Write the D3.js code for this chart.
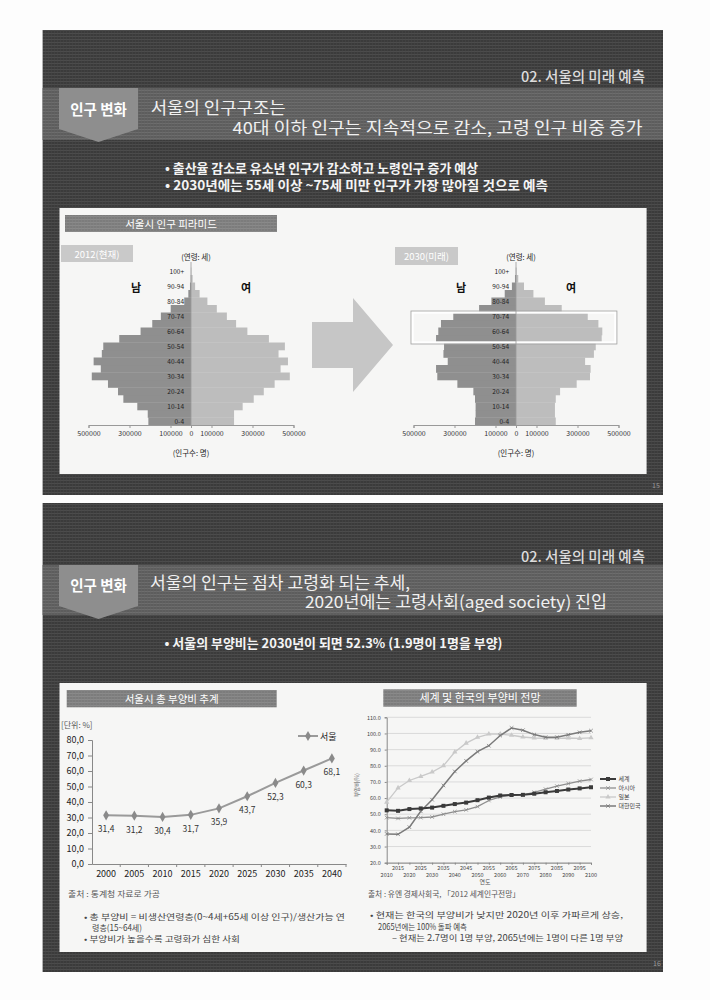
<!DOCTYPE html>
<html><head><meta charset="utf-8">
<script src="https://cdn.jsdelivr.net/npm/d3@7"></script>
<style>body{margin:0;background:#fff;}svg{display:block;}text{font-family:"Noto Sans CJK KR","Noto Sans",sans-serif;}</style>
</head><body><svg id="c" width="710" height="1000"></svg>
<script>
// ---------- DATA ----------
const ageGroups = ["0-4","5-9","10-14","15-19","20-24","25-29","30-34","35-39","40-44","45-49","50-54","55-59","60-64","65-69","70-74","75-79","80-84","85-89","90-94","95-99","100+"];
const ageTickLabels = ["0-4","10-14","20-24","30-34","40-44","50-54","60-64","70-74","80-84","90-94","100+"];
const male2012 = [208000,211000,262000,330000,356000,405000,484000,440000,475000,435000,428000,350000,246000,189000,147000,99000,33000,13000,5000,1500,500];
const female2012 = [210000,210000,252000,306000,355000,408000,482000,437000,473000,427000,458000,380000,275000,220000,175000,126000,80000,42000,20000,8000,2000];
const male2030 = [200000,197000,197000,200000,208000,286000,384000,390000,333000,354000,351000,390000,379000,366000,306000,180000,120000,55000,20000,5000,1000];
const female2030 = [194000,190000,190000,194000,215000,296000,361000,364000,337000,380000,389000,418000,421000,402000,350000,223000,141000,85000,39000,11000,3000];
const popTicks = [-500000,-300000,-100000,0,100000,300000,500000];
const highlightAges = ["55-59","70-74"];

const seoulYears = ["2000","2005","2010","2015","2020","2025","2030","2035","2040"];
const seoulRatio = [31.4,31.2,30.4,31.7,35.9,43.7,52.3,60.3,68.1];
const seoulYTicks = [0,10,20,30,40,50,60,70,80];

const worldYears = [2010,2015,2020,2025,2030,2035,2040,2045,2050,2055,2060,2065,2070,2075,2080,2085,2090,2095,2100];
const worldRatio = [52.4,52.1,53.2,53.6,54.1,55.2,56.3,57.2,58.7,60.3,61.6,61.9,62.0,62.7,63.6,64.4,65.3,66.0,66.7];
const asiaRatio  = [47.9,47.4,47.8,47.9,48.3,50.0,51.6,52.7,54.7,58.5,60.7,61.8,62.0,63.6,65.5,67.4,69.0,70.5,71.5];
const japanRatio = [57.5,66.3,70.9,73.4,76.1,80.0,88.5,94.0,97.6,99.6,99.6,98.9,97.8,97.2,97.0,97.0,97.2,96.9,97.3];
const koreaRatio = [37.8,37.6,42.0,51.8,59.0,67.8,76.5,83.0,88.7,92.4,98.7,103.4,102.0,99.3,97.7,97.7,99.2,100.7,101.7];
const worldYTicks = [20,30,40,50,60,70,80,90,100,110];
const seriesNames = ["세계","아시아","일본","대한민국"];

// ---------- PAGE ----------
const svg = d3.select("#c");
const defs = svg.append("defs");
function tex(id, base, line, vline){
  const p = defs.append("pattern").attr("id",id).attr("width",3).attr("height",3).attr("patternUnits","userSpaceOnUse");
  p.append("rect").attr("width",3).attr("height",3).attr("fill",base);
  p.append("rect").attr("width",3).attr("height",1).attr("fill",line);
  p.append("rect").attr("width",1).attr("height",3).attr("fill",vline).attr("opacity",0.5);
}
tex("dark","#3b3b3b","#4c4c4c","#474747");
tex("band","#5d5d5d","#6d6d6d","#666");
tex("gbox","#7c7c7c","#8a8a8a","#858585");

svg.append("rect").attr("width",710).attr("height",1000).attr("fill","#fdfdfd");

function panel(y0,y1,bandY0,bandY1,inY0,inY1,chev){
  svg.append("rect").attr("x",42.6).attr("y",y0).attr("width",620.4).attr("height",y1-y0).attr("fill","url(#dark)");
  svg.append("rect").attr("x",42.6).attr("y",bandY0).attr("width",620.4).attr("height",bandY1-bandY0).attr("fill","url(#band)");
  svg.append("path").attr("d",`M59,${bandY0}H138V${bandY0+41}L98.5,${bandY0+54}L59,${bandY0+41}Z`).attr("fill","#8e8e8e");
  svg.append("rect").attr("x",59.5).attr("y",inY0).attr("width",587.1).attr("height",inY1-inY0).attr("fill","#f6f6f5");
}
panel(30,495,88,140,208,474);
panel(503,972,565,615,683,952);

function txt(x,y,s,o={}){
  const t = svg.append("text").attr("x",x).attr("y",y).text(s)
    .attr("font-size",o.size||10).attr("fill",o.fill||"#222")
    .attr("font-weight",o.weight||400).attr("text-anchor",o.anchor||"start");
  if(o.len) t.attr("textLength",o.len).attr("lengthAdjust","spacingAndGlyphs");
  if(o.family) t.attr("font-family",o.family);
  return t;
}
// headers
txt(645,82,"02. 서울의 미래 예측",{size:14.5,fill:"#dcdcdc",anchor:"end",weight:500});
txt(98.5,115,"인구 변화",{size:14.5,fill:"#fff",anchor:"middle",weight:700});
txt(150.7,114,"서울의 인구구조는",{size:16.5,fill:"#f0f0f0",len:135});
txt(232.6,134,"40대 이하 인구는 지속적으로 감소, 고령 인구 비중 증가",{size:16.5,fill:"#f0f0f0",len:410});
txt(165,173,"• 출산율 감소로 유소년 인구가 감소하고 노령인구 증가 예상",{size:13,fill:"#f4f4f4",weight:700,len:313});
txt(165,190,"• 2030년에는 55세 이상 ~75세 미만 인구가 가장 많아질 것으로 예측",{size:13,fill:"#f4f4f4",weight:700,len:383});
txt(656,488,"15",{size:7,fill:"#999",anchor:"middle"});

txt(645,562,"02. 서울의 미래 예측",{size:14.5,fill:"#dcdcdc",anchor:"end",weight:500});
txt(98.5,591,"인구 변화",{size:14.5,fill:"#fff",anchor:"middle",weight:700});
txt(150,589,"서울의 인구는 점차 고령화 되는 추세,",{size:16.5,fill:"#f0f0f0",len:260});
txt(305,608,"2020년에는 고령사회(aged society) 진입",{size:16.5,fill:"#f0f0f0",len:302});
txt(164.5,648,"• 서울의 부양비는 2030년이 되면 52.3% (1.9명이 1명을 부양)",{size:13,fill:"#f4f4f4",weight:700,len:338});
txt(657,966,"16",{size:7,fill:"#999",anchor:"middle"});

// ---------- PYRAMIDS ----------
svg.append("rect").attr("x",65).attr("y",215).attr("width",212).attr("height",17).attr("fill","url(#gbox)");
txt(171,227.5,"서울시 인구 피라미드",{size:10.5,fill:"#fff",anchor:"middle"});
svg.append("rect").attr("x",61).attr("y",245).attr("width",72).attr("height",17).attr("fill","#c9c9c9");
txt(97,257.5,"2012(현재)",{size:9.5,fill:"#fff",anchor:"middle"});
svg.append("rect").attr("x",395).attr("y",247).attr("width",63).attr("height",18).attr("fill","#c9c9c9");
txt(426.5,259.5,"2030(미래)",{size:9.5,fill:"#fff",anchor:"middle"});

// arrow
svg.append("path").attr("d","M312,322H353V298L393,345L353,392V368H312Z").attr("fill","#c6c6c6");

function pyramid(cx, male, female, highlight){
  const x = d3.scaleLinear().domain([-500000,500000]).range([cx-102.5,cx+102.5]);
  const y = d3.scaleBand().domain(ageGroups).range([425,267.5]).padding(0);
  const g = svg.append("g");
  g.selectAll(".m").data(ageGroups).join("rect")
    .attr("x",(d,i)=>x(-male[i])).attr("y",d=>y(d))
    .attr("width",(d,i)=>x(0)-x(-male[i])).attr("height",y.bandwidth()+0.3).attr("fill","#8f8f8f");
  g.selectAll(".f").data(ageGroups).join("rect")
    .attr("x",x(0)).attr("y",d=>y(d))
    .attr("width",(d,i)=>x(female[i])-x(0)).attr("height",y.bandwidth()+0.3).attr("fill","#bdbdbd");
  if(highlight){
    const top = y(highlight[1]), bot = y(highlight[0])+y.bandwidth();
    g.append("rect").attr("x",x(-505000)).attr("y",top).attr("width",x(485000)-x(-505000)).attr("height",bot-top)
      .attr("fill","none").attr("stroke","#fff").attr("stroke-width",2.4);
    g.append("rect").attr("x",x(-505000)-1.5).attr("y",top-1.5).attr("width",x(485000)-x(-505000)+3).attr("height",bot-top+3)
      .attr("fill","none").attr("stroke","#a0a0a0").attr("stroke-width",0.8);
  }
  g.append("line").attr("x1",x(0)).attr("x2",x(0)).attr("y1",262).attr("y2",425).attr("stroke","#999").attr("stroke-width",0.8);
  g.selectAll(".al").data(ageTickLabels).join("text")
    .attr("x",x(0)-7).attr("y",d=>y(d)+y.bandwidth()/2+2.3).attr("text-anchor","end")
    .attr("font-size",6.5).attr("fill","#222").text(d=>d);
  const ax = g.append("g").attr("transform","translate(0,425)")
    .call(d3.axisBottom(x).tickValues(popTicks).tickFormat(d=>Math.abs(d)).tickSize(3).tickPadding(3));
  ax.select(".domain").attr("stroke","#999");
  ax.selectAll(".tick line").attr("stroke","#999");
  ax.selectAll("text").attr("font-size",7).attr("fill","#333").attr("font-family","'Liberation Sans',Arial,sans-serif");
  txt(cx+5,259.5,"(연령: 세)",{size:7.5,anchor:"middle"});
  txt(cx,456,"(인구수: 명)",{size:7.5,anchor:"middle"});
  txt(cx-55,291.5,"남",{size:11,weight:700,anchor:"middle",fill:"#111"});
  txt(cx+55,291.5,"여",{size:11,weight:700,anchor:"middle",fill:"#111"});
}
pyramid(191, male2012, female2012, null);
pyramid(516, male2030, female2030, highlightAges);

// ---------- SEOUL DEPENDENCY ----------
svg.append("rect").attr("x",66.7).attr("y",690).attr("width",210).attr("height",17.3).attr("fill","url(#gbox)");
txt(171.7,702.5,"서울시 총 부양비 추계",{size:10.5,fill:"#fff",anchor:"middle"});
txt(61,728,"[단위: %]",{size:8,fill:"#555"});
{
  const xs = d3.scaleBand().domain(seoulYears).range([92,346]);
  const ys = d3.scaleLinear().domain([0,80]).range([864,740]);
  const g = svg.append("g");
  const fmt = d=>d3.format(".1f")(d).replace(".",",");
  const ay = g.append("g").attr("transform","translate(92,0)")
    .call(d3.axisLeft(ys).tickValues(seoulYTicks).tickFormat(fmt).tickSize(4).tickPadding(4));
  const axx = g.append("g").attr("transform","translate(0,864)")
    .call(d3.axisBottom(xs).tickSize(0).tickPadding(7));
  [ay,axx].forEach(a=>{a.select(".domain").attr("stroke","#888");a.selectAll(".tick line").attr("stroke","#888");
    a.selectAll("text").attr("font-size",9).attr("fill","#222").attr("font-family","'Liberation Sans',Arial,sans-serif");});
  g.selectAll(".xt").data(seoulYears).join("line")
    .attr("x1",d=>xs(d)+xs.bandwidth()).attr("x2",d=>xs(d)+xs.bandwidth()).attr("y1",864).attr("y2",867).attr("stroke","#888");
  const cxp = d=>xs(d)+xs.bandwidth()/2;
  g.append("path").datum(seoulRatio)
    .attr("d",d3.line().x((d,i)=>cxp(seoulYears[i])).y(d=>ys(d)))
    .attr("fill","none").attr("stroke","#9a9a9a").attr("stroke-width",2);
  g.selectAll(".pt").data(seoulRatio).join("path")
    .attr("transform",(d,i)=>`translate(${cxp(seoulYears[i])},${ys(d)})`)
    .attr("d",d3.symbol(d3.symbolDiamond,30)).attr("fill","#8a8a8a");
  g.selectAll(".lb").data(seoulRatio).join("text")
    .attr("x",(d,i)=>cxp(seoulYears[i])).attr("y",d=>ys(d)+17).attr("text-anchor","middle")
    .attr("font-size",8.5).attr("fill","#333").attr("font-family","'Liberation Sans',Arial,sans-serif").text(fmt);
  // legend
  g.append("line").attr("x1",298).attr("x2",318).attr("y1",736).attr("y2",736).attr("stroke","#9a9a9a").attr("stroke-width",2);
  g.append("path").attr("transform","translate(308,736)").attr("d",d3.symbol(d3.symbolDiamond,30)).attr("fill","#8a8a8a");
  txt(320,739.5,"서울",{size:9,fill:"#222"});
}

// ---------- WORLD DEPENDENCY ----------
svg.append("rect").attr("x",383.3).attr("y",689.3).attr("width",193.4).attr("height",17.4).attr("fill","url(#gbox)");
txt(480,702,"세계 및 한국의 부양비 전망",{size:11,fill:"#fff",anchor:"middle"});
{
  const xw = d3.scalePoint().domain(worldYears).range([386.7,591]);
  const yw = d3.scaleLinear().domain([20,110]).range([862.7,717.3]);
  const g = svg.append("g");
  g.selectAll(".gl").data(worldYTicks).join("line")
    .attr("x1",386.7).attr("x2",591).attr("y1",d=>yw(d)).attr("y2",d=>yw(d)).attr("stroke","#cfcfcf").attr("stroke-width",0.7);
  const ay = g.append("g").attr("transform","translate(386.7,0)")
    .call(d3.axisLeft(yw).tickValues(worldYTicks).tickFormat(d3.format(".1f")).tickSize(2).tickPadding(4));
  const axx = g.append("g").attr("transform","translate(0,862.7)")
    .call(d3.axisBottom(xw).tickSize(2).tickFormat(""));
  [ay,axx].forEach(a=>{a.select(".domain").attr("stroke","#888");a.selectAll(".tick line").attr("stroke","#888");
    a.selectAll("text").attr("font-size",5.5).attr("fill","#444").attr("font-family","'Liberation Sans',Arial,sans-serif");});
  g.selectAll(".xl").data(worldYears).join("text")
    .attr("x",d=>xw(d)).attr("y",(d,i)=>i%2? 869.5:876.5).attr("text-anchor","middle")
    .attr("font-size",5.5).attr("fill","#444").attr("font-family","'Liberation Sans',Arial,sans-serif").text(d=>d);
  const st = [
    {v:japanRatio, c:"#c9c9c9", w:1.3, sym:d3.symbolTriangle, sz:12},
    {v:asiaRatio, c:"#8e8e8e", w:1.3, sym:d3.symbolTimes, sz:10},
    {v:koreaRatio, c:"#7a7a7a", w:1.5, sym:d3.symbolTimes, sz:10},
    {v:worldRatio, c:"#3a3a3a", w:2, sym:d3.symbolSquare, sz:16}
  ];
  const line = d3.line().x((d,i)=>xw(worldYears[i])).y(d=>yw(d));
  st.forEach(s=>{
    g.append("path").datum(s.v).attr("d",line).attr("fill","none").attr("stroke",s.c).attr("stroke-width",s.w);
    g.selectAll(null).data(s.v).join("path")
      .attr("transform",(d,i)=>`translate(${xw(worldYears[i])},${yw(d)})`)
      .attr("d",d3.symbol(s.sym,s.sz)).attr("fill",s.c).attr("stroke",s.sym===d3.symbolTimes?s.c:"none").attr("stroke-width",0.8);
  });
  const legendStyles = [st[3],st[1],st[0],st[2]];
  seriesNames.forEach((n,i)=>{
    const yy = 779+i*9;
    const s = legendStyles[i];
    g.append("line").attr("x1",600).attr("x2",616).attr("y1",yy).attr("y2",yy).attr("stroke",s.c).attr("stroke-width",s.w);
    g.append("path").attr("transform",`translate(608,${yy})`).attr("d",d3.symbol(s.sym,s.sz)).attr("fill",s.c).attr("stroke",s.sym===d3.symbolTimes?s.c:"none").attr("stroke-width",0.8);
    txt(618.5,yy+2,n,{size:6,fill:"#444"});
  });
  txt(359,785,"부양비(%)",{size:5.5,fill:"#555",anchor:"middle"}).attr("transform","rotate(-90,359,785)");
  txt(485,884,"연도",{size:6,fill:"#555",anchor:"middle"});
}

// ---------- NOTES ----------
txt(68,897,"출처 : 통계청 자료로 가공",{size:7.5,fill:"#555",len:92});
txt(368,897,"출처 : 유엔 경제사회국, 「2012 세계인구전망」",{size:7.5,fill:"#555",len:152});
txt(84,919.5,"• 총 부양비 = 비생산연령층(0~4세+65세 이상 인구)/생산가능 연",{size:8.5,fill:"#444",len:261});
txt(92,930.5,"령층(15~64세)",{size:8.5,fill:"#444",len:50});
txt(84,942,"• 부양비가 높을수록 고령화가 심한 사회",{size:8.5,fill:"#444",len:156});
txt(370,918,"• 현재는 한국의 부양비가 낮지만 2020년 이후 가파르게 상승,",{size:8.5,fill:"#444",len:253});
txt(378,929.5,"2065년에는 100% 돌파 예측",{size:8.5,fill:"#444",len:89});
txt(392,940.5,"– 현재는 2.7명이 1명 부양, 2065년에는 1명이 다른 1명 부양",{size:8.5,fill:"#444",len:231});
</script></body></html>
